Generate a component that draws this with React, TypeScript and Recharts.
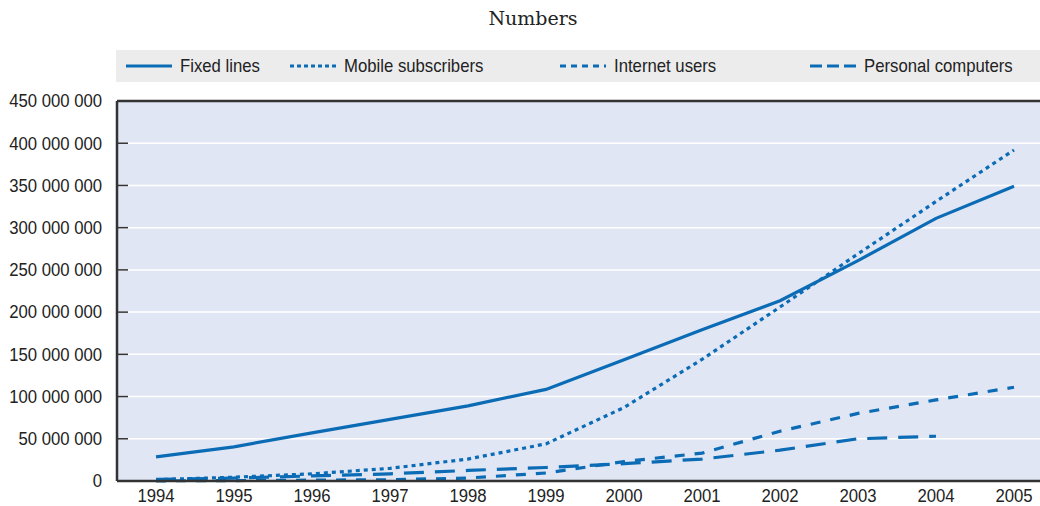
import { LineChart, Line, XAxis, YAxis, CartesianGrid, ReferenceLine } from 'recharts';

const years = [1994, 1995, 1996, 1997, 1998, 1999, 2000, 2001, 2002, 2003, 2004, 2005];
const fixedLines = [28.5, 40.5, 57, 73, 89, 108.5, 143.5, 179, 213.5, 261, 311, 349];
const mobileSubscribers = [1.5, 4.5, 8.5, 15, 26, 44, 87, 144, 206, 269, 331, 392];
const internetUsers = [0.2, 0.5, 1, 1.5, 3.5, 9.5, 23, 33, 59, 80, 96, 111];
const personalComputers = [2, 3.5, 6, 8.5, 12.5, 16, 20.5, 26, 36.5, 50, 53, null];
const yTicks = [0, 50, 100, 150, 200, 250, 300, 350, 400, 450].map((v) => v * 1e6);

const BLUE = '#0b6cb5';
const FONT = '"Liberation Sans", Arial, sans-serif';
const SQUEEZE = 0.88;

const series = [
  { key: 'fixed', name: 'Fixed lines', dash: undefined, legendDash: undefined },
  { key: 'mobile', name: 'Mobile subscribers', dash: '4 4', legendDash: '4 3' },
  { key: 'internet', name: 'Internet users', dash: '10 10', legendDash: '6 5' },
  { key: 'pc', name: 'Personal computers', dash: '20 11', legendDash: '12 5' },
];

const data = years.map((year, i) => ({
  year,
  fixed: fixedLines[i] * 1e6,
  mobile: mobileSubscribers[i] * 1e6,
  internet: internetUsers[i] * 1e6,
  pc: personalComputers[i] == null ? null : (personalComputers[i] as number) * 1e6,
}));

// tick marks sit between the years
const boundaries = years.slice(0, -1).map((y) => y + 0.5);

const fmt = (v: number) => String(v).replace(/\B(?=(\d{3})+(?!\d))/g, ' ');

function YTick(props: any) {
  const { x, y, payload } = props;
  const inner = payload.value > 0 && payload.value < 450e6;
  return (
    <g>
      {inner && <line x1={x + 15} x2={x + 26} y1={y} y2={y} stroke="#333" strokeWidth={1.5} />}
      <text
        transform={`translate(${x},${y}) scale(${SQUEEZE},1)`}
        textAnchor="end"
        dominantBaseline="central"
        fill="#222"
        fontSize={19}
        fontFamily={FONT}
      >
        {fmt(payload.value)}
      </text>
    </g>
  );
}

function XTick(props: any) {
  const { x, y, payload } = props;
  return (
    <text
      transform={`translate(${x},${y}) scale(${SQUEEZE},1)`}
      textAnchor="middle"
      dominantBaseline="central"
      fill="#222"
      fontSize={19}
      fontFamily={FONT}
    >
      {payload.value}
    </text>
  );
}

function LegendBox() {
  const lefts = [10, 174, 444, 694];
  return (
    <div style={{ position: 'absolute', left: 116, top: 50, width: 940, height: 32, background: '#ececec' }}>
      {series.map((s, i) => (
        <div key={s.key} style={{ position: 'absolute', left: lefts[i], top: 0, height: 32, display: 'flex', alignItems: 'center' }}>
          <svg width={46} height={8} style={{ marginRight: 8 }}>
            <line x1={0} x2={46} y1={4} y2={4} stroke={BLUE} strokeWidth={3} strokeDasharray={s.legendDash} />
          </svg>
          <span
            style={{
              display: 'inline-block',
              fontFamily: FONT,
              fontSize: 19,
              color: '#222',
              whiteSpace: 'nowrap',
              transform: `scaleX(${SQUEEZE})`,
              transformOrigin: 'left center',
            }}
          >
            {s.name}
          </span>
        </div>
      ))}
    </div>
  );
}

export default function App() {
  return (
    <div style={{ position: 'absolute', left: 0, top: 0, width: 1040, height: 506, overflow: 'hidden', background: '#fff' }}>
      <div
        style={{
          position: 'absolute',
          left: 0,
          width: 1066,
          top: 7,
          textAlign: 'center',
          fontFamily: '"DejaVu Serif", "Liberation Serif", serif',
          fontSize: 19,
          color: '#222',
        }}
      >
        Numbers
      </div>
      <LegendBox />
      <div style={{ position: 'absolute', left: 0, top: 0 }}>
        <LineChart width={1060} height={506} data={data} margin={{ top: 101, right: 7, bottom: 0, left: 0 }}>
          <CartesianGrid xAxisId="b" fill="#e1e6f4" stroke="#ffffff" strokeWidth={1.5} />
          <XAxis
            xAxisId="x"
            dataKey="year"
            type="number"
            domain={[1993.5, 2005.5]}
            ticks={years}
            tickLine={false}
            axisLine={false}
            tickSize={0}
            tickMargin={15}
            height={25}
            tick={<XTick />}
          />
          <XAxis
            xAxisId="b"
            type="number"
            domain={[1993.5, 2005.5]}
            ticks={boundaries}
            mirror
            tickSize={12}
            tickFormatter={() => ''}
            tickLine={{ stroke: '#333', strokeWidth: 1.5 }}
            axisLine={{ stroke: '#333', strokeWidth: 2.5 }}
          />
          <YAxis
            width={117}
            domain={[0, 450e6]}
            ticks={yTicks}
            tickLine={false}
            tickSize={0}
            tickMargin={15}
            axisLine={{ stroke: '#333', strokeWidth: 2.5 }}
            tick={<YTick />}
          />
          <ReferenceLine xAxisId="x" y={450e6} stroke="#333" strokeWidth={2.5} />
          {series.map((s) => (
            <Line
              key={s.key}
              xAxisId="x"
              dataKey={s.key}
              name={s.name}
              stroke={BLUE}
              strokeWidth={3.2}
              strokeDasharray={s.dash}
              dot={false}
              activeDot={false}
              type="linear"
              isAnimationActive={false}
            />
          ))}
        </LineChart>
      </div>
    </div>
  );
}
